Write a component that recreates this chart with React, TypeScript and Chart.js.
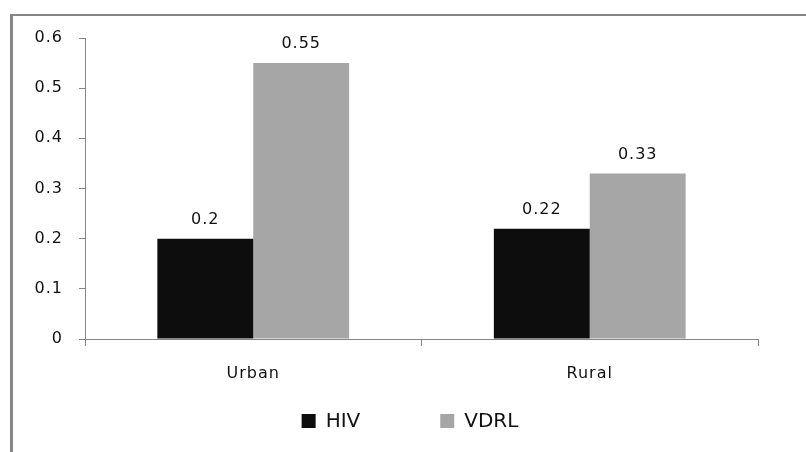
import React, { useEffect, useRef } from "react";
import { Chart, registerables } from "chart.js";

Chart.register(...registerables);

const categories = ["Urban", "Rural"];
const hivValues = [0.2, 0.22];
const vdrlValues = [0.55, 0.33];
const seriesNames = ["HIV", "VDRL"];
const yTicks = [0, 0.1, 0.2, 0.3, 0.4, 0.5, 0.6];

const AXIS = "#868686";
const FONT = "'DejaVu Sans', sans-serif";

const spacingPlugin = {
  id: "spacing",
  beforeDraw(chart: any) {
    (chart.ctx as any).letterSpacing = "1px";
  },
};

const valueLabels = {
  id: "valueLabels",
  afterDatasetsDraw(chart: any) {
    const ctx = chart.ctx;
    ctx.save();
    (ctx as any).letterSpacing = "1px";
    ctx.font = `16px ${FONT}`;
    ctx.fillStyle = "#111";
    ctx.textAlign = "center";
    ctx.textBaseline = "middle";
    chart.data.datasets.forEach((ds: any, i: number) => {
      const meta = chart.getDatasetMeta(i);
      meta.data.forEach((bar: any, j: number) => {
        ctx.fillText(String(ds.data[j]), bar.x, bar.y - 19);
      });
    });
    ctx.restore();
  },
};

const bottomLegend = {
  id: "bottomLegend",
  afterDraw(chart: any) {
    const ctx = chart.ctx;
    ctx.save();
    (ctx as any).letterSpacing = "0px";
    ctx.font = `20px ${FONT}`;
    ctx.textBaseline = "middle";
    ctx.textAlign = "left";
    const box = 14;
    const gap = 10;
    const itemGap = 80;
    const items = chart.data.datasets.map((ds: any) => ({
      label: ds.label,
      color: ds.backgroundColor,
      w: box + gap + ctx.measureText(ds.label).width,
    }));
    const total = items.reduce((s: number, it: any) => s + it.w, 0) + itemGap * (items.length - 1);
    let x = 410 - total / 2;
    const cy = 421;
    items.forEach((it: any) => {
      ctx.fillStyle = it.color;
      ctx.fillRect(x, cy - box / 2, box, box);
      ctx.fillStyle = "#111";
      ctx.fillText(it.label, x + box + gap, cy + 1);
      x += it.w + itemGap;
    });
    ctx.restore();
  },
};

export default function App() {
  const ref = useRef<HTMLCanvasElement | null>(null);

  useEffect(() => {
    if (!ref.current) return;
    const chart = new Chart(ref.current, {
      type: "bar",
      data: {
        labels: categories,
        datasets: [
          {
            label: seriesNames[0],
            data: hivValues,
            backgroundColor: "#0d0d0d",
            categoryPercentage: 0.57,
            barPercentage: 1,
          },
          {
            label: seriesNames[1],
            data: vdrlValues,
            backgroundColor: "#a6a6a6",
            categoryPercentage: 0.57,
            barPercentage: 1,
          },
        ],
      },
      options: {
        responsive: false,
        animation: false,
        layout: { padding: { left: 0, right: 48, top: 38, bottom: 0 } },
        plugins: {
          legend: { display: false },
          tooltip: { enabled: false },
        },
        scales: {
          x: {
            offset: true,
            afterFit: (s: any) => {
              s.height = 113;
            },
            grid: {
              offset: true,
              drawOnChartArea: false,
              drawTicks: true,
              tickLength: 7,
              tickColor: AXIS,
              color: AXIS,
            },
            border: { display: true, color: AXIS, width: 1 },
            ticks: {
              color: "#111",
              font: { family: FONT, size: 16 },
              padding: 18,
            },
          },
          y: {
            min: 0,
            max: 0.6,
            afterFit: (s: any) => {
              s.width = 85;
            },
            afterBuildTicks: (s: any) => {
              s.ticks = yTicks.map((v) => ({ value: v }));
            },
            grid: {
              drawOnChartArea: false,
              drawTicks: true,
              tickLength: 6,
              tickColor: AXIS,
              color: AXIS,
            },
            border: { display: true, color: AXIS, width: 1 },
            ticks: {
              color: "#111",
              font: { family: FONT, size: 16 },
              padding: 16,
              callback: (v: any) => String(Math.round(Number(v) * 10) / 10),
            },
          },
        },
      },
      plugins: [spacingPlugin, valueLabels, bottomLegend],
    });
    return () => chart.destroy();
  }, []);

  return (
    <div style={{ position: "fixed", inset: 0, background: "#fff", overflow: "hidden" }}>
      <div
        style={{
          position: "absolute",
          left: 10,
          top: 14,
          width: 1000,
          height: 1000,
          borderLeft: `3px solid ${AXIS}`,
          borderTop: `2px solid ${AXIS}`,
        }}
      />
      <canvas
        ref={ref}
        width={806}
        height={452}
        style={{ position: "absolute", left: 0, top: 0, width: 806, height: 452 }}
      />
    </div>
  );
}
